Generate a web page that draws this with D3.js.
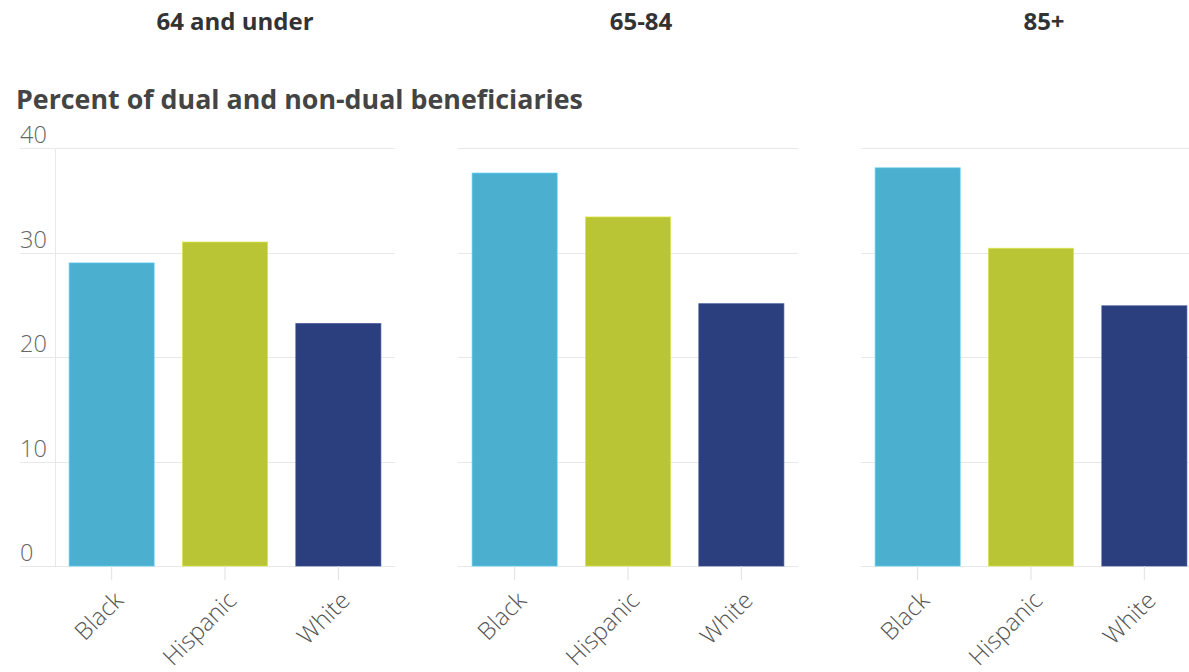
<!DOCTYPE html>
<html>
<head>
<meta charset="utf-8">
<script src="https://cdn.jsdelivr.net/npm/d3@7"></script>
<style>
  html, body { margin: 0; padding: 0; background: #fff; }
  svg { display: block; font-family: "Open Sans", Lato, sans-serif; }
</style>
</head>
<body>
<svg id="chart" width="1189" height="672"></svg>
<script>
const panels = ["64 and under", "65-84", "85+"];
const categories = ["Black", "Hispanic", "White"];
const values64 = [29.0, 31.0, 23.2];
const values6584 = [37.6, 33.4, 25.1];
const values85 = [38.1, 30.4, 24.9];
const yTicks = [0, 10, 20, 30, 40];
const colors = ["#4bafd0", "#bac535", "#2b3f7e"];
const seriesByPanel = [values64, values6584, values85];

const svg = d3.select("#chart");
const panelX = [55, 458, 861];
const panelW = 340;
const titleX = [235, 641, 1044];

const y = d3.scaleLinear().domain([0, 40]).range([566, 148]);
const x = d3.scaleBand().domain(categories).range([0, panelW]).paddingInner(0.25).paddingOuter(0.125);
const color = d3.scaleOrdinal().domain(categories).range(colors);

svg.append("text")
  .attr("x", 16).attr("y", 109)
  .attr("font-size", 26.8).attr("font-weight", 700).attr("fill", "#444")
  .text("Percent of dual and non-dual beneficiaries");

panels.forEach((p, i) => {
  const g = svg.append("g").attr("transform", `translate(${panelX[i]},0)`);
  const left = i === 0 ? -35 : 0;

  svg.append("text")
    .attr("x", titleX[i]).attr("y", 30)
    .attr("text-anchor", "middle")
    .attr("font-size", 24).attr("font-weight", 700).attr("fill", "#333")
    .text(p);

  g.selectAll(".grid").data(yTicks).enter().append("line")
    .attr("x1", left).attr("x2", panelW)
    .attr("y1", d => Math.round(y(d)) + 0.5).attr("y2", d => Math.round(y(d)) + 0.5)
    .attr("stroke", "#e8e8e8").attr("stroke-width", 1);

  if (i === 0) {
    g.append("line")
      .attr("x1", 0.5).attr("x2", 0.5)
      .attr("y1", y(40)).attr("y2", y(0))
      .attr("stroke", "#e8e8e8");
    g.selectAll(".ylab").data(yTicks).enter().append("text")
      .attr("x", left).attr("y", d => y(d) - 5)
      .attr("font-size", 23.5).attr("font-weight", 300).attr("fill", "#666")
      .text(d => d);
  }

  g.selectAll(".bar").data(categories.map((c, j) => ({c, v: seriesByPanel[i][j]})))
    .enter().append("rect")
    .attr("x", d => x(d.c)).attr("width", x.bandwidth())
    .attr("y", d => y(d.v)).attr("height", d => y(0) - y(d.v))
    .attr("fill", d => color(d.c))
    .attr("stroke", d => d3.color(color(d.c)).brighter(0.4))
    .attr("stroke-opacity", 0.7)
    .attr("stroke-width", 1);

  const xAxis = d3.axisBottom(x).tickSize(14).tickPadding(10);
  const ax = g.append("g").attr("transform", `translate(0,${y(0)})`).call(xAxis);
  ax.select(".domain").remove();
  ax.selectAll(".tick line").attr("stroke", "#e0e0e0");
  ax.selectAll(".tick text")
    .attr("font-size", 24).attr("font-weight", 300).attr("fill", "#555")
    .attr("font-family", "\"Open Sans\", Lato, sans-serif")
    .attr("text-anchor", "end")
    .attr("dy", "0.35em")
    .attr("transform", "translate(7,30) rotate(-45)")
    .attr("y", 0).attr("x", 0);
});
</script>
</body>
</html>
